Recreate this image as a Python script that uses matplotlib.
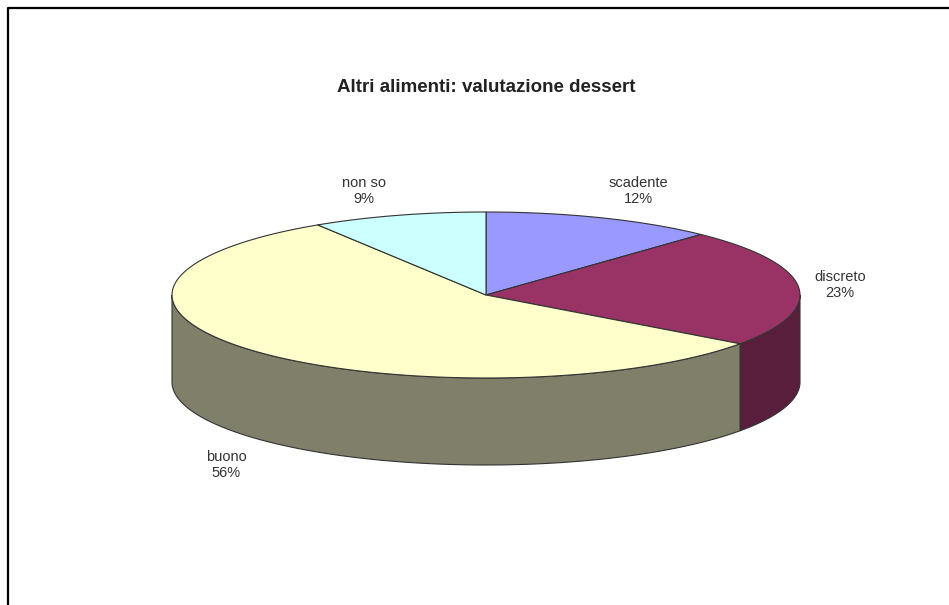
import numpy as np
import matplotlib.pyplot as plt
from matplotlib.patches import Polygon

labels = ['scadente', 'discreto', 'buono', 'non so']
values = [12, 23, 56, 9]
top_colors = ['#9999ff', '#993366', '#ffffcc', '#ccffff']
side_colors = ['#5c5c99', '#5a1e3d', '#80806a', '#7a9999']

title = 'Altri alimenti: valutazione dessert'

# pixel layout of the 3d pie
W, H = 949, 605
cx, cy = 486, 295
rx, ry = 314, 83
depth = 87

fig = plt.figure(figsize=(W / 100, H / 100), dpi=100)
ax = fig.add_axes([0, 0, 1, 1])
ax.set_xlim(0, W)
ax.set_ylim(H, 0)
ax.axis('off')


def ell(t, dy=0.0):
    return cx + rx * np.cos(t), cy - ry * np.sin(t) + dy


# slice angles, clockwise from 12 o'clock
fracs = np.array(values) / sum(values)
starts = np.pi / 2 - 2 * np.pi * np.concatenate([[0], np.cumsum(fracs)[:-1]])
ends = starts - 2 * np.pi * fracs

edge = '#333333'

# side walls (front half only)
for s, e, col in zip(starts, ends, side_colors):
    lo, hi = e, s
    # map into the range so front half is [-pi, 0]
    for shift in (0, -2 * np.pi, 2 * np.pi):
        a, b = max(lo + shift, -np.pi), min(hi + shift, 0)
        if b > a:
            t = np.linspace(b, a, 80)
            x1, y1 = ell(t)
            x2, y2 = ell(t[::-1], depth)
            pts = np.column_stack([np.concatenate([x1, x2]), np.concatenate([y1, y2])])
            ax.add_patch(Polygon(pts, closed=True, fc=col, ec=edge, lw=0.8))

# top faces
for s, e, col in zip(starts, ends, top_colors):
    t = np.linspace(s, e, 120)
    x, y = ell(t)
    pts = np.column_stack([np.concatenate([[cx], x]), np.concatenate([[cy], y])])
    ax.add_patch(Polygon(pts, closed=True, fc=col, ec=edge, lw=0.8))

# data labels
label_pos = [(638, 191), (840, 285), (226, 465), (364, 191)]
for lab, v, (lx, ly) in zip(labels, values, label_pos):
    ax.text(lx, ly, f'{lab}\n{v}%', ha='center', va='center', fontsize=10.5,
            family='Liberation Sans', color='#333333', linespacing=1.2)

ax.text(cx, 87, title, ha='center', va='center', fontsize=13.5,
        fontweight='bold', family='Liberation Sans', color='#222222')

# chart area frame
ax.plot([8, 8, W + 5], [H + 5, 8, 8], color='black', lw=1.6,
        solid_capstyle='projecting')

fig.savefig('out.png', dpi=100)
